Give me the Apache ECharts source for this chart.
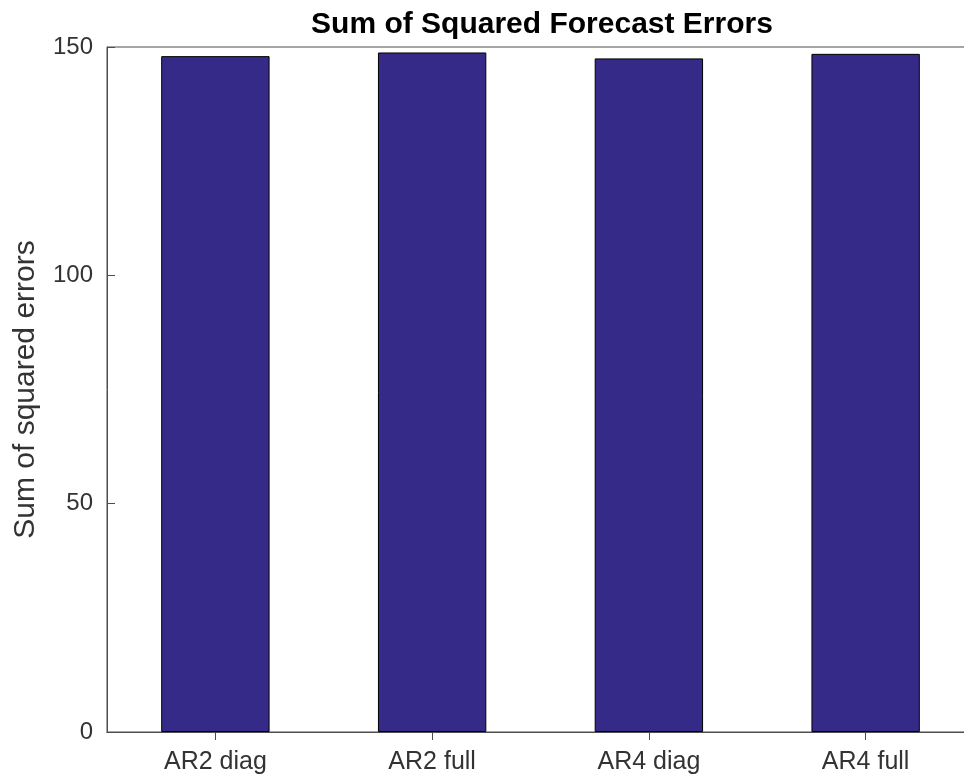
<!DOCTYPE html>
<html><head><meta charset="utf-8">
<script src="https://cdn.jsdelivr.net/npm/echarts@6/dist/echarts.min.js"></script>
<style>html,body{margin:0;padding:0;background:#fff;overflow:hidden}#c{width:964px;height:776px}</style>
</head><body><div id="c"></div>
<script>
const categories = ['AR2 diag', 'AR2 full', 'AR4 diag', 'AR4 full'];
const sseValues = [148.0, 148.8, 147.5, 148.5];
const yTicks = [0, 50, 100, 150];

const chart = echarts.init(document.getElementById('c'));
const axisCol = '#4d4d4d';
const txtCol = '#333333';
const ff = 'Liberation Sans, Arial, Helvetica';
chart.setOption({
  animation: false,
  backgroundColor: '#fff',
  title: {
    text: 'Sum of Squared Forecast Errors',
    left: 537, top: 5, textAlign: 'center',
    textStyle: { fontFamily: ff, fontSize: 30, fontWeight: 'bold', color: '#000' }
  },
  grid: { left: 107, width: 867, top: 47, height: 685, outerBoundsMode: 'none', containLabel: false,
    show: true, borderColor: axisCol, borderWidth: 1, backgroundColor: 'transparent' },
  xAxis: [{
    type: 'category', data: categories, position: 'bottom',
    axisLine: { lineStyle: { color: axisCol, width: 1 } },
    axisTick: { show: true, inside: true, alignWithLabel: true, length: 8, lineStyle: { color: axisCol } },
    axisLabel: { color: txtCol, fontSize: 25, fontFamily: ff, margin: 18 }
  }, {
    type: 'category', data: categories, position: 'top', z: 10,
    axisLine: { show: true, lineStyle: { color: axisCol, width: 1 } },
    axisTick: { show: true, inside: true, alignWithLabel: true, length: 8, lineStyle: { color: axisCol, width: 1 } },
    axisLabel: { show: false }
  }],
  yAxis: [{
    type: 'value', min: 0, max: 150, interval: 50,
    name: 'Sum of squared errors', nameLocation: 'middle', nameGap: 66, nameRotate: 90,
    nameTextStyle: { color: txtCol, fontSize: 30, fontFamily: ff },
    axisLine: { show: true, lineStyle: { color: axisCol, width: 1 } },
    axisTick: { show: true, inside: true, length: 8, lineStyle: { color: axisCol } },
    splitLine: { show: false },
    axisLabel: { color: txtCol, fontSize: 24, fontFamily: ff, margin: 14,
      formatter: v => yTicks.includes(v) ? String(v) : '' }
  }, {
    type: 'value', min: 0, max: 150, interval: 50, position: 'right',
    axisLine: { show: true, lineStyle: { color: axisCol, width: 1 } },
    axisTick: { show: true, inside: true, length: 8, lineStyle: { color: axisCol } },
    splitLine: { show: false },
    axisLabel: { show: false }
  }],
  series: [{
    type: 'bar', data: sseValues, barWidth: '50%', xAxisIndex: 0, yAxisIndex: 0,
    itemStyle: { color: '#352a87', borderColor: '#000', borderWidth: 1 }
  }]
});
</script></body></html>
